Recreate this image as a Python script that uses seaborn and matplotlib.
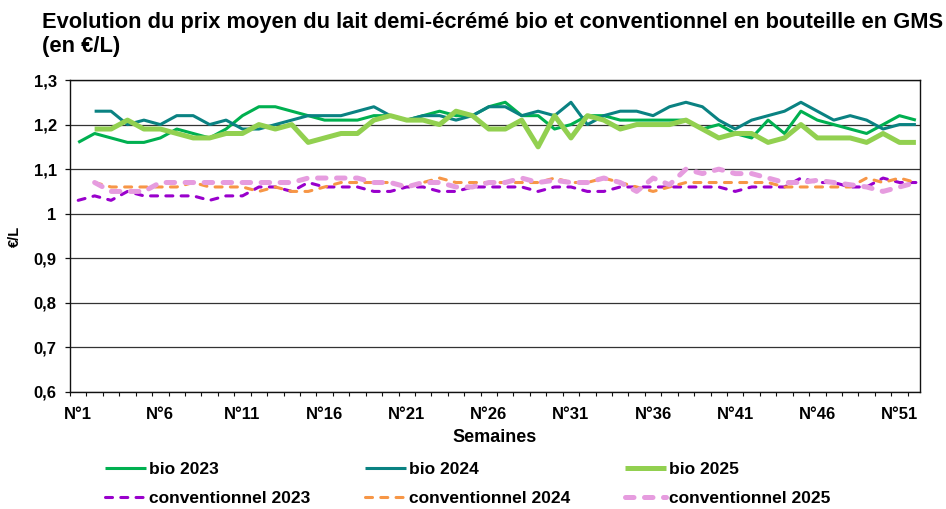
import matplotlib
matplotlib.use("Agg")
import numpy as np
import pandas as pd
import seaborn as sns
import matplotlib.pyplot as plt
from matplotlib.ticker import FixedLocator, FixedFormatter

# ---------------- data ----------------
weeks = list(range(1, 53))
nan = np.nan

bio_2023 = [1.16, 1.18, 1.17, 1.16, 1.16, 1.17, 1.19, 1.18, 1.17, 1.19,
            1.22, 1.24, 1.24, 1.23, 1.22, 1.21, 1.21, 1.21, 1.22, 1.22,
            1.21, 1.22, 1.23, 1.22, 1.22, 1.24, 1.25, 1.22, 1.22, 1.19,
            1.20, 1.22, 1.22, 1.21, 1.21, 1.21, 1.21, 1.21, 1.19, 1.20,
            1.18, 1.17, 1.21, 1.18, 1.23, 1.21, 1.20, 1.19, 1.18, 1.20,
            1.22, 1.21]
bio_2024 = [nan, 1.23, 1.23, 1.20, 1.21, 1.20, 1.22, 1.22, 1.20, 1.21,
            1.19, 1.19, 1.20, 1.21, 1.22, 1.22, 1.22, 1.23, 1.24, 1.22,
            1.21, 1.22, 1.22, 1.21, 1.22, 1.24, 1.24, 1.22, 1.23, 1.22,
            1.25, 1.20, 1.22, 1.23, 1.23, 1.22, 1.24, 1.25, 1.24, 1.21,
            1.19, 1.21, 1.22, 1.23, 1.25, 1.23, 1.21, 1.22, 1.21, 1.19,
            1.20, 1.20]
bio_2025 = [nan, 1.19, 1.19, 1.21, 1.19, 1.19, 1.18, 1.17, 1.17, 1.18,
            1.18, 1.20, 1.19, 1.20, 1.16, 1.17, 1.18, 1.18, 1.21, 1.22,
            1.21, 1.21, 1.20, 1.23, 1.22, 1.19, 1.19, 1.21, 1.15, 1.22,
            1.17, 1.22, 1.21, 1.19, 1.20, 1.20, 1.20, 1.21, 1.19, 1.17,
            1.18, 1.18, 1.16, 1.17, 1.20, 1.17, 1.17, 1.17, 1.16, 1.18,
            1.16, 1.16]
conv_2023 = [1.03, 1.04, 1.03, 1.05, 1.04, 1.04, 1.04, 1.04, 1.03, 1.04,
             1.04, 1.06, 1.06, 1.05, 1.07, 1.06, 1.06, 1.06, 1.05, 1.05,
             1.06, 1.06, 1.05, 1.05, 1.06, 1.06, 1.06, 1.06, 1.05, 1.06,
             1.06, 1.05, 1.05, 1.06, 1.06, 1.06, 1.06, 1.06, 1.06, 1.06,
             1.05, 1.06, 1.06, 1.06, 1.08, 1.07, 1.07, 1.06, 1.06, 1.08,
             1.07, 1.07]
conv_2024 = [nan, 1.07, 1.06, 1.06, 1.06, 1.06, 1.06, 1.07, 1.06, 1.06,
             1.06, 1.05, 1.06, 1.05, 1.05, 1.06, 1.07, 1.07, 1.07, 1.07,
             1.06, 1.07, 1.08, 1.07, 1.07, 1.07, 1.07, 1.07, 1.07, 1.08,
             1.07, 1.07, 1.08, 1.07, 1.06, 1.05, 1.06, 1.07, 1.07, 1.07,
             1.07, 1.07, 1.07, 1.06, 1.06, 1.06, 1.06, 1.06, 1.08, 1.07,
             1.08, 1.07]
conv_2025 = [nan, 1.07, 1.05, 1.05, 1.05, 1.07, 1.07, 1.07, 1.07, 1.07,
             1.07, 1.07, 1.07, 1.07, 1.08, 1.08, 1.08, 1.08, 1.07, 1.07,
             1.06, 1.07, 1.07, 1.06, 1.06, 1.07, 1.07, 1.08, 1.07, 1.075,
             1.07, 1.07, 1.08, 1.07, 1.05, 1.08, 1.065, 1.10, 1.09, 1.10,
             1.09, 1.09, 1.08, 1.07, 1.07, 1.075, 1.07, 1.065, 1.06, 1.05,
             1.06, 1.07]

series_names = ["bio 2023", "bio 2024", "bio 2025",
                "conventionnel 2023", "conventionnel 2024", "conventionnel 2025"]
series_values = [bio_2023, bio_2024, bio_2025, conv_2023, conv_2024, conv_2025]

xtick_weeks = [1, 6, 11, 16, 21, 26, 31, 36, 41, 46, 51]
xtick_labels = ["N°%d" % w for w in xtick_weeks]
ytick_values = [0.6, 0.7, 0.8, 0.9, 1.0, 1.1, 1.2, 1.3]
ytick_labels = ["0,6", "0,7", "0,8", "0,9", "1", "1,1", "1,2", "1,3"]

title = "Evolution du prix moyen du lait demi-écrémé bio et conventionnel en bouteille en GMS\n(en €/L)"

# ---------------- styles ----------------
styles = {
    "bio 2023": dict(color="#00B050", lw=2.2, ls="-"),
    "bio 2024": dict(color="#0A8282", lw=2.2, ls="-"),
    "bio 2025": dict(color="#92D050", lw=3.6, ls="-"),
    "conventionnel 2023": dict(color="#9900CC", lw=2.2, ls=(0, (2.3, 2.7))),
    "conventionnel 2024": dict(color="#F79646", lw=2.2, ls=(0, (2.3, 2.7))),
    "conventionnel 2025": dict(color="#E69CDF", lw=3.6, ls=(0, (1.7, 2.1))),
}

df = pd.concat(
    [pd.DataFrame({"semaine": weeks, "prix": vals, "serie": name})
     for name, vals in zip(series_names, series_values)],
    ignore_index=True)

sns.set_theme(style="white")
plt.rcParams["font.family"] = ["Liberation Sans", "DejaVu Sans"]
plt.rcParams["text.color"] = "black"
plt.rcParams["axes.labelcolor"] = "black"
plt.rcParams["xtick.color"] = "black"
plt.rcParams["ytick.color"] = "black"

fig = plt.figure(figsize=(9.46, 5.09), dpi=100)
ax = fig.add_axes([70 / 946, 1 - 392 / 509, 850 / 946, 312 / 509])

for name in series_names:
    st = styles[name]
    sub = df[df["serie"] == name].dropna()
    sns.lineplot(data=sub, x="semaine", y="prix", ax=ax, color=st["color"],
                 linewidth=st["lw"], linestyle=st["ls"], label=name,
                 errorbar=None, dash_capstyle="round", solid_capstyle="butt",
                 solid_joinstyle="round", legend=False)

ax.set_xlim(0.5, 52.25)
ax.set_ylim(0.6, 1.3)
ax.yaxis.set_major_locator(FixedLocator(ytick_values))
ax.yaxis.set_major_formatter(FixedFormatter(ytick_labels))
ax.xaxis.set_major_locator(FixedLocator(xtick_weeks))
ax.xaxis.set_major_formatter(FixedFormatter(xtick_labels))
ax.xaxis.set_minor_locator(FixedLocator([w + 0.5 for w in range(0, 52)]))
ax.grid(axis="y", color="#333333", linewidth=0.9)
ax.set_axisbelow(True)
for sp in ax.spines.values():
    sp.set_color("#111111")
    sp.set_linewidth(1.0)
    sp.set_visible(True)

ax.tick_params(axis="y", which="major", length=3.6, width=0.9, color="#111111",
               direction="out", left=True, labelsize=12, pad=6)
ax.tick_params(axis="x", which="major", length=0, labelsize=12, pad=11)
ax.tick_params(axis="x", which="minor", length=3, width=0.8, color="#111111",
               direction="out", bottom=True)
for lbl in ax.get_xticklabels() + ax.get_yticklabels():
    lbl.set_fontweight("bold")

ax.set_xlabel("Semaines", fontsize=13, fontweight="bold", labelpad=5)
ax.set_ylabel("€/L", fontsize=10.5, fontweight="bold")
ax.yaxis.set_label_coords(22 / 946, 1 - 236 / 509, transform=fig.transFigure)

fig.text(42 / 946, 1 - 12 / 509, title, fontsize=15.75, fontweight="bold",
         ha="left", va="top", linespacing=1.18)

handles, labels = ax.get_legend_handles_labels()
hmap = dict(zip(labels, handles))
order = ["bio 2023", "conventionnel 2023", "bio 2024", "conventionnel 2024",
         "bio 2025", "conventionnel 2025"]
leg = fig.legend([hmap[k] for k in order], order, ncol=3,
                 loc="upper left", bbox_to_anchor=(105 / 946, 1 - 462 / 509),
                 frameon=False, prop=dict(size=12.5, weight="bold"),
                 handlelength=2.36, handletextpad=0.17, columnspacing=3.15,
                 labelspacing=0.8, borderaxespad=0, borderpad=0)

fig.savefig("out.png", dpi=100)
